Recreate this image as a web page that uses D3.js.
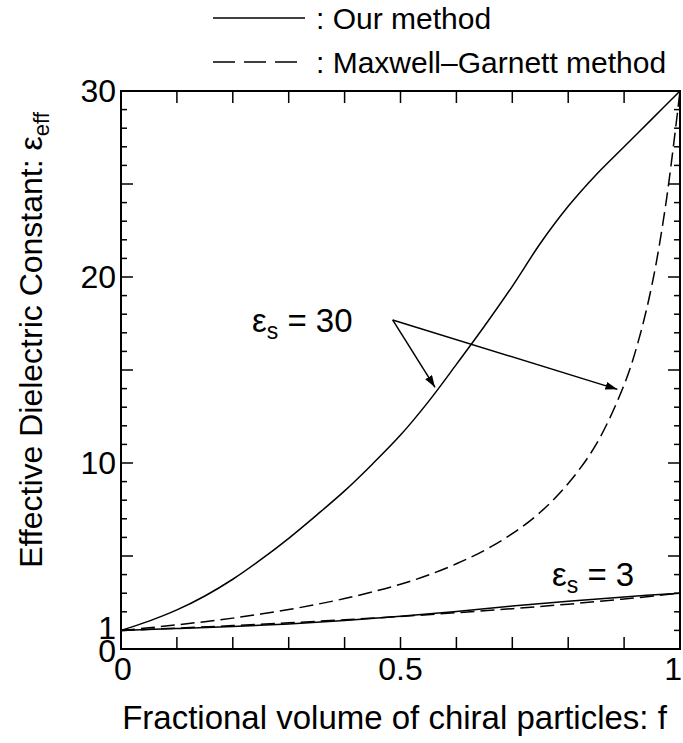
<!DOCTYPE html>
<html><head><meta charset="utf-8">
<script src="https://cdn.jsdelivr.net/npm/d3@7"></script>
<style>body{margin:0;background:#fff}svg{display:block}text{font-family:"Liberation Sans",Arial,sans-serif;fill:#000}</style>
</head><body><svg id="c" width="683" height="743"></svg>
<script>
// fractional volume grids
const fFine = [0,0.05,0.1,0.15,0.2,0.25,0.3,0.35,0.4,0.45,0.5,0.55,0.6,0.65,0.7,0.75,0.8,0.85,0.9,0.95,1.0];
const ours30 = [1,1.5,2.1,2.85,3.75,4.8,5.95,7.2,8.5,9.95,11.5,13.3,15.3,17.35,19.5,21.8,23.8,25.5,27.0,28.5,30];
const fMG30 = [0,0.05,0.1,0.15,0.2,0.25,0.3,0.35,0.4,0.45,0.5,0.55,0.6,0.65,0.7,0.75,0.8,0.85,0.9,0.925,0.95,0.975,1.0];
const mg30 = [1,1.14,1.3,1.47,1.66,1.88,2.12,2.4,2.71,3.07,3.48,3.98,4.58,5.3,6.2,7.35,8.9,11.0,14.2,16.5,19.6,24.0,30];
const fCoarse = [0,0.1,0.2,0.3,0.4,0.5,0.6,0.7,0.8,0.9,1.0];
const ours3 = [1,1.1,1.21,1.35,1.53,1.76,2.02,2.31,2.57,2.8,3.0];
const mg3 = [1,1.12,1.26,1.41,1.57,1.75,1.95,2.17,2.41,2.69,3.0];
// axis ticks
const xTickVals = [0,0.1,0.2,0.3,0.4,0.5,0.6,0.7,0.8,0.9,1];
const xTickLabels = {0:"0",0.5:"0.5",1:"1"};
const yTickVals = d3.range(0,31,1);
const yTickLabels = [0,1,10,20,30];
// annotations
const arrowFrom = [0.486,17.69];
const arrowTo = [[0.5617,14.07],[0.888,13.96]];
const legendItems = [": Our method",": Maxwell\u2013Garnett method"];

const svg = d3.select("#c");
const L=121,R=680,T=91,B=649;
const x = d3.scaleLinear().domain([0,1]).range([L,R]);
const y = d3.scaleLinear().domain([0,30]).range([B,T]);

svg.append("defs").append("marker").attr("id","ah").attr("viewBox","0 0 12 8")
  .attr("refX",12).attr("refY",4).attr("markerWidth",12).attr("markerHeight",8)
  .attr("markerUnits","userSpaceOnUse").attr("orient","auto")
  .append("path").attr("d","M0,0L12,4L0,8Z").attr("fill","#000");

const g = svg.append("g");
xTickVals.forEach(v=>{
  g.append("line").attr("x1",x(v)).attr("x2",x(v)).attr("y1",B).attr("y2",B-12).attr("stroke","#000").attr("stroke-width",1.5);
  g.append("line").attr("x1",x(v)).attr("x2",x(v)).attr("y1",T).attr("y2",T+12).attr("stroke","#000").attr("stroke-width",1.5);
});
yTickVals.forEach(v=>{
  const len = v%5===0?12:6;
  g.append("line").attr("x1",L).attr("x2",L+len).attr("y1",y(v)).attr("y2",y(v)).attr("stroke","#000").attr("stroke-width",1.5);
  g.append("line").attr("x1",R).attr("x2",R-len).attr("y1",y(v)).attr("y2",y(v)).attr("stroke","#000").attr("stroke-width",1.5);
});
svg.append("rect").attr("x",L).attr("y",T).attr("width",R-L).attr("height",B-T).attr("fill","none").attr("stroke","#000").attr("stroke-width",2);

Object.keys(xTickLabels).forEach(k=>{
  const v=+k;
  svg.append("text").attr("x",v===1?682:(v===0?x(v)+2:x(v))).attr("y",B+31)
    .attr("text-anchor",v===1?"end":"middle").attr("font-size",32).text(xTickLabels[k]);
});
yTickLabels.forEach(v=>{
  svg.append("text").attr("x",L-5).attr("y",y(v)+(v===0?13:(v===1?9:11))).attr("text-anchor","end").attr("font-size",32).text(String(v));
});

const line = d3.line().curve(d3.curveCatmullRom.alpha(0.5));
function draw(fs, vs, dashed){
  svg.append("path").attr("d",line(fs.map((f,i)=>[x(f),y(vs[i])])))
    .attr("fill","none").attr("stroke","#000").attr("stroke-width",1.5)
    .attr("stroke-dasharray",dashed?"14,6":null);
}
draw(fFine,ours30,false);
draw(fMG30,mg30,true);
draw(fCoarse,ours3,false);
draw(fCoarse,mg3,true);

arrowTo.forEach(t=>{
  svg.append("line").attr("x1",x(arrowFrom[0])).attr("y1",y(arrowFrom[1])).attr("x2",x(t[0])).attr("y2",y(t[1]))
    .attr("stroke","#000").attr("stroke-width",1.5).attr("marker-end","url(#ah)");
});

function epsLabel(px,py,val){
  const t = svg.append("text").attr("x",px).attr("y",py).attr("font-size",33);
  t.append("tspan").text("\u03b5");
  t.append("tspan").attr("font-size",23).attr("dy",7).text("s");
  t.append("tspan").attr("dy",-7).text(" = "+val);
}
epsLabel(252,332,"30");
epsLabel(552,586,"3");

svg.append("text").attr("x",(L+R)/2-6).attr("y",729).attr("text-anchor","middle").attr("font-size",33).text("Fractional volume of chiral particles: f");
const yt = svg.append("text").attr("transform","translate(42,340) rotate(-90)").attr("text-anchor","middle").attr("font-size",32);
yt.append("tspan").text("Effective Dielectric Constant: \u03b5");
yt.append("tspan").attr("font-size",22).attr("dy",7).text("eff");

const legY=[18,62];
legendItems.forEach((s,i)=>{
  svg.append("line").attr("x1",213).attr("x2",305).attr("y1",legY[i]).attr("y2",legY[i]).attr("stroke","#000").attr("stroke-width",1.5)
    .attr("stroke-dasharray",i===1?"22,9":null);
  svg.append("text").attr("x",316).attr("y",legY[i]+11).attr("font-size",30).text(s);
});
</script></body></html>
